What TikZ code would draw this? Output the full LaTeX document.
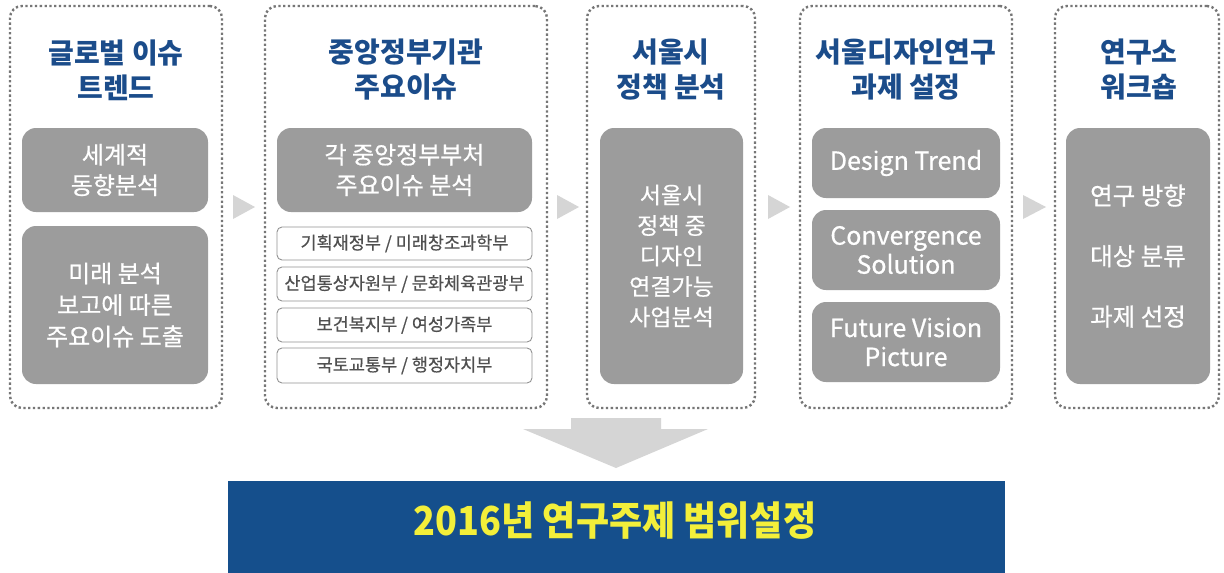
\documentclass[tikz,border=0pt]{standalone}
\usepackage{fontspec}
\setmainfont{Noto Sans CJK KR}
\newfontfamily\condfont[FakeStretch=0.9]{Noto Sans CJK KR}
\newfontfamily\boxfont[FakeBold=0.6]{Noto Sans CJK KR}
\definecolor{titleblue}{HTML}{1B4C8A}
\definecolor{boxgray}{HTML}{9C9C9C}
\definecolor{dotgray}{HTML}{767676}
\definecolor{arrowgray}{HTML}{D5D5D5}
\definecolor{bandblue}{HTML}{154F8C}
\definecolor{bandyellow}{HTML}{F3EF3A}
\definecolor{smalltext}{HTML}{505050}
\begin{document}
\begin{tikzpicture}[x=1pt,y=-1pt,
  panel/.style={draw=dotgray, line width=2.4pt, dash pattern=on 2.3pt off 2.5pt,
    rounded corners=12pt, inner sep=0pt, outer sep=0pt},
  ptitle/.style={text=titleblue, align=center, font=\bfseries\fontsize{28}{35}\selectfont},
  graybox/.style={fill=boxgray, rounded corners=14pt, inner sep=0pt, outer sep=0pt,
    text=white, align=center, font=\boxfont\fontsize{24}{30.5}\selectfont},
  wbox/.style={draw=gray!85, line width=0.9pt, fill=white, rounded corners=5pt,
    inner sep=0pt, outer sep=0pt, text=smalltext, font=\boxfont\fontsize{17.5}{20}\selectfont,
    minimum width=255pt},
  tri/.style={fill=arrowgray, draw=none}
]
\useasboundingbox (0,0) rectangle (1224,573);
\fill[white] (0,0) rectangle (1224,573);

% panels
\node[panel, minimum width=212pt, minimum height=402pt] (p1) at (116,207) {};
\node[panel, minimum width=282pt, minimum height=402pt] (p2) at (406,207) {};
\node[panel, minimum width=168pt, minimum height=402pt] (p3) at (671,207) {};
\node[panel, minimum width=212pt, minimum height=402pt] (p4) at (906,207) {};
\node[panel, minimum width=164pt, minimum height=402pt] (p5) at (1137,207) {};

% titles
\node[ptitle] (t1) at (116,70) {글로벌 이슈\\트렌드};
\node[ptitle] (t2) at (406,70) {중앙정부기관\\주요이슈};
\node[ptitle] (t3) at (671,70) {서울시\\정책 분석};
\node[ptitle] (t4) at (906,70) {서울디자인연구\\과제 설정};
\node[ptitle] (t5) at (1139,70) {연구소\\워크숍};

% panel 1
\node[graybox, minimum width=186pt, minimum height=84pt] (g1a) at (115,170) {세계적\\동향분석};
\node[graybox, minimum width=186pt, minimum height=158pt, font=\boxfont\fontsize{24}{31.5}\selectfont] (g1b) at (115,305) {미래 분석\\보고에 따른\\주요이슈 도출};

% panel 2
\node[graybox, minimum width=255pt, minimum height=84pt] (g2) at (404.5,170) {각 중앙정부부처\\주요이슈 분석};
\node[wbox, minimum height=33pt] (w1) at (404.5,243.5) {기획재정부 / 미래창조과학부};
\node[wbox, minimum height=34pt] (w2) at (404.5,284) {산업통상자원부 / 문화체육관광부};
\node[wbox, minimum height=34pt] (w3) at (404.5,325) {보건복지부 / 여성가족부};
\node[wbox, minimum height=35pt] (w4) at (404.5,365.5) {국토교통부 / 행정자치부};

% panel 3
\node[graybox, minimum width=143pt, minimum height=256pt, font=\boxfont\fontsize{23}{30.5}\selectfont] (g3) at (671.5,256) {서울시\\정책 중\\디자인\\연결가능\\사업분석};

% panel 4
\node[graybox, minimum width=188pt, minimum height=70pt, font=\boxfont\fontsize{25}{29}\selectfont] (g4a) at (906,163) {Design Trend};
\node[graybox, minimum width=188pt, minimum height=80pt, font=\boxfont\fontsize{25}{29}\selectfont] (g4b) at (906,250) {Convergence\\Solution};
\node[graybox, minimum width=188pt, minimum height=80pt, font=\boxfont\fontsize{25}{29}\selectfont] (g4c) at (906,342) {Future Vision\\Picture};

% panel 5
\node[graybox, minimum width=144pt, minimum height=256pt, font=\boxfont\fontsize{24.5}{60.5}\selectfont] (g5) at (1138,256) {연구 방향\\대상 분류\\과제 선정};

% small arrows between panels
\fill[tri] ([xshift=11pt,yshift=-12pt]p1.east) -- ([xshift=33pt]p1.east) -- ([xshift=11pt,yshift=12pt]p1.east) -- cycle;
\fill[tri] ([xshift=10pt,yshift=-12pt]p2.east) -- ([xshift=32pt]p2.east) -- ([xshift=10pt,yshift=12pt]p2.east) -- cycle;
\fill[tri] ([xshift=13pt,yshift=-12pt]p3.east) -- ([xshift=35pt]p3.east) -- ([xshift=13pt,yshift=12pt]p3.east) -- cycle;
\fill[tri] ([xshift=11pt,yshift=-12pt]p4.east) -- ([xshift=34pt]p4.east) -- ([xshift=11pt,yshift=12pt]p4.east) -- cycle;

% bottom band
\node[fill=bandblue, minimum width=777pt, minimum height=92pt, inner sep=0pt, outer sep=0pt,
  anchor=north west] (band) at (228,481) {};
\node[text=bandyellow, font=\condfont\bfseries\fontsize{40}{44}\selectfont] (bt) at (615,521) {2016년 연구주제 범위설정};

% big down arrow
\coordinate (atop) at (616,418);
\fill[tri] ([xshift=-45pt]atop) -- ([xshift=45pt]atop) -- ([xshift=45pt,yshift=-11pt]atop)
  -- ([xshift=92pt,yshift=-11pt]atop) -- ([yshift=-50pt]atop) -- ([xshift=-93pt,yshift=-11pt]atop)
  -- ([xshift=-45pt,yshift=-11pt]atop) -- cycle;
\end{tikzpicture}
\end{document}
